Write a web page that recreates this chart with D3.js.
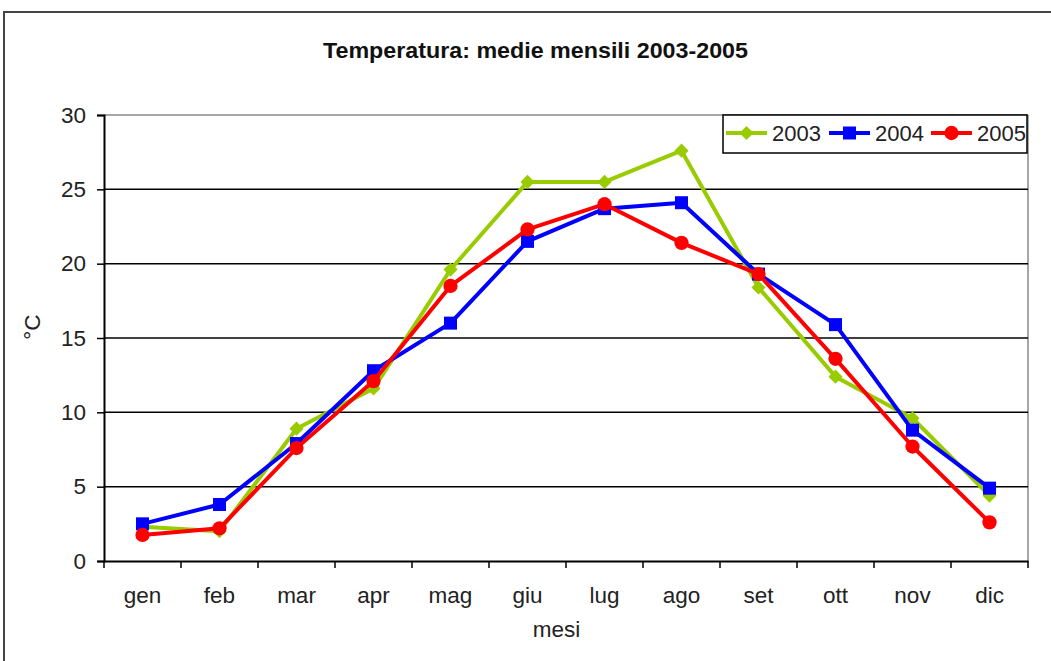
<!DOCTYPE html>
<html><head><meta charset="utf-8">
<script src="https://cdn.jsdelivr.net/npm/d3@7"></script>
<style>body{margin:0;background:#fff}svg{display:block}</style>
</head><body>
<svg id="c" width="1051" height="661"></svg>
<script>
const months = ["gen","feb","mar","apr","mag","giu","lug","ago","set","ott","nov","dic"];
const v2003 = [2.3, 2.0, 8.9, 11.6, 19.6, 25.5, 25.5, 27.6, 18.4, 12.4, 9.6, 4.4];
const v2004 = [2.5, 3.8, 7.9, 12.8, 16.0, 21.5, 23.7, 24.1, 19.3, 15.9, 8.8, 4.9];
const v2005 = [1.75, 2.2, 7.6, 12.1, 18.5, 22.3, 24.0, 21.4, 19.3, 13.6, 7.7, 2.6];
const yTicks = [0, 5, 10, 15, 20, 25, 30];
const seriesNames = ["2003", "2004", "2005"];
const seriesColors = ["#99CC00", "#0000FF", "#FF0000"];

const svg = d3.select("#c");
const pLeft = 104, pRight = 1028, pTop = 115, pBottom = 561;
const x = d3.scaleBand().domain(months).range([pLeft, pRight]);
const y = d3.scaleLinear().domain([0, 30]).range([pBottom, pTop]);
const font = "'Liberation Sans', Arial, sans-serif";
const fs = 22.5;

// marker shapes: diamond (rotated square), square, circle
const shapes = [
  {type: d3.symbolSquare, size: 100, rot: 45},
  {type: d3.symbolSquare, size: 169, rot: 0},
  {type: d3.symbolCircle, size: 160, rot: 0}
];

// outer frame
svg.append("rect").attr("x", 4).attr("y", 12).attr("width", 1100).attr("height", 700)
  .attr("fill", "none").attr("stroke", "#444").attr("stroke-width", 2);

// title
svg.append("text").attr("x", 535.5).attr("y", 58).attr("text-anchor", "middle")
  .attr("font-family", font).attr("font-weight", "bold").attr("font-size", 22)
  .attr("fill", "#111").attr("textLength", 425).attr("lengthAdjust", "spacingAndGlyphs")
  .text("Temperatura: medie mensili 2003-2005");

// plot border (top/right gray)
svg.append("line").attr("x1", pLeft).attr("x2", pRight).attr("y1", pTop).attr("y2", pTop)
  .attr("stroke", "#888").attr("stroke-width", 1.5);
svg.append("line").attr("x1", pRight).attr("x2", pRight).attr("y1", pTop).attr("y2", pBottom)
  .attr("stroke", "#888").attr("stroke-width", 1.5);

// gridlines
svg.append("g").selectAll("line").data(yTicks.filter(t => t > 0 && t < 30)).join("line")
  .attr("x1", pLeft).attr("x2", pRight).attr("y1", d => y(d)).attr("y2", d => y(d))
  .attr("stroke", "#000").attr("stroke-width", 1.5);

// y axis
const yAxis = svg.append("g").attr("transform", `translate(${pLeft},0)`)
  .call(d3.axisLeft(y).tickValues(yTicks).tickSize(7).tickPadding(11));
yAxis.select(".domain").attr("stroke", "#000").attr("stroke-width", 2);
yAxis.selectAll(".tick line").attr("stroke", "#000").attr("stroke-width", 1.5);
yAxis.selectAll("text").attr("font-family", font).attr("font-size", fs).attr("fill", "#222");

// x axis
const xAxis = svg.append("g").attr("transform", `translate(0,${pBottom})`)
  .call(d3.axisBottom(x).tickSize(0).tickPadding(26));
xAxis.select(".domain").attr("stroke", "#000").attr("stroke-width", 2);
xAxis.selectAll("text").attr("font-family", font).attr("font-size", fs).attr("fill", "#222");
// boundary ticks
const bounds = months.map(m => x(m)).concat([pRight]);
svg.append("g").selectAll("line").data(bounds).join("line")
  .attr("x1", d => d).attr("x2", d => d).attr("y1", pBottom).attr("y2", pBottom + 7)
  .attr("stroke", "#000").attr("stroke-width", 1.5);

// axis titles
svg.append("text").attr("x", 556.5).attr("y", 637).attr("text-anchor", "middle")
  .attr("font-family", font).attr("font-size", fs).attr("fill", "#222").text("mesi");
svg.append("text").attr("transform", "translate(40,327) rotate(-90)").attr("text-anchor", "middle")
  .attr("font-family", font).attr("font-size", fs).attr("fill", "#222").text("°C");

// series
const allVals = [v2003, v2004, v2005];
const cx = m => x(m) + x.bandwidth() / 2;
allVals.forEach((vals, i) => {
  const g = svg.append("g");
  const line = d3.line().x((d, j) => cx(months[j])).y(d => y(d));
  g.append("path").datum(vals).attr("d", line).attr("fill", "none")
    .attr("stroke", seriesColors[i]).attr("stroke-width", 4).attr("stroke-linejoin", "round");
  g.selectAll("path.m").data(vals).join("path").attr("class", "m")
    .attr("transform", (d, j) => `translate(${cx(months[j])},${y(d)}) rotate(${shapes[i].rot})`)
    .attr("d", d3.symbol().type(shapes[i].type).size(shapes[i].size))
    .attr("fill", seriesColors[i]);
});

// legend
const lg = svg.append("g");
lg.append("rect").attr("x", 723).attr("y", 115).attr("width", 304).attr("height", 38)
  .attr("fill", "#fff").attr("stroke", "#000").attr("stroke-width", 1.5);
const lx = [726, 829, 931];
seriesNames.forEach((n, i) => {
  lg.append("line").attr("x1", lx[i]).attr("x2", lx[i] + 41).attr("y1", 133).attr("y2", 133)
    .attr("stroke", seriesColors[i]).attr("stroke-width", 4);
  lg.append("path").attr("transform", `translate(${lx[i] + 20.5},133) rotate(${shapes[i].rot})`)
    .attr("d", d3.symbol().type(shapes[i].type).size(shapes[i].size)).attr("fill", seriesColors[i]);
  lg.append("text").attr("x", lx[i] + 46).attr("y", 141).attr("font-family", font)
    .attr("font-size", 22).attr("fill", "#222").text(n);
});
</script>
</body></html>
